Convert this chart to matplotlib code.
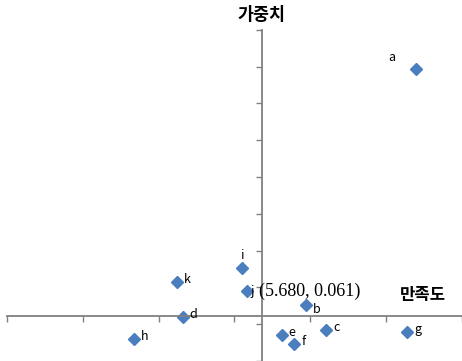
import matplotlib.pyplot as plt
import numpy as np

plt.rcParams['font.family'] = ['Noto Sans CJK KR', 'DejaVu Sans']

# data
names = ['a', 'b', 'c', 'd', 'e', 'f', 'g', 'h', 'i', 'j', 'k']
satisfaction = [6.700, 5.970, 6.105, 5.160, 5.812, 5.895, 6.640, 4.835, 5.550, 5.580, 5.118]
weight = [0.397, 0.0757, 0.0419, 0.0595, 0.0351, 0.023, 0.039, 0.0297, 0.127, 0.0946, 0.107]
cross_x, cross_y = 5.680, 0.061
x_ticks = np.arange(4.0, 7.01, 0.5)
y_ticks = np.arange(0.0, 0.451, 0.05)

fig = plt.figure(figsize=(4.62, 3.61), dpi=100)
ax = fig.add_axes([0, 0, 1, 1])
ax.set_xlim(3.954, 6.974)
ax.set_ylim(0.0027, 0.4906)

gray = '#808080'
for s in ['top', 'right']:
    ax.spines[s].set_visible(False)
ax.spines['left'].set_position(('data', cross_x))
ax.spines['bottom'].set_position(('data', cross_y))
ax.spines['left'].set_bounds(0.0, 0.45)
ax.spines['bottom'].set_bounds(4.0, 7.0)
for s in ['left', 'bottom']:
    ax.spines[s].set_color(gray)
    ax.spines[s].set_linewidth(1.3)
ax.set_xticks(x_ticks)
ax.set_yticks(y_ticks)
ax.tick_params(axis='both', color=gray, length=4, width=1, direction='out',
               labelbottom=False, labelleft=False)

ax.plot(satisfaction, weight, 'D', color='#4A7EBF', markersize=6, clip_on=False)

# point labels
offsets = {'a': (-20, 8), 'i': (-1, 9), 'j': (3, 0), 'b': (5, -3)}
for n, x, y in zip(names, satisfaction, weight):
    dx, dy = offsets.get(n, (5, 2))
    ax.annotate(n, (x, y), xytext=(dx, dy), textcoords='offset points',
                fontsize=9, va='center', ha='left')

ax.annotate('(%.3f, %.3f)' % (cross_x, cross_y), (satisfaction[9], weight[9]),
            xytext=(9, 0), textcoords='offset points', fontsize=13,
            family='Liberation Serif', va='center', ha='left')

ax.text(cross_x, 0.470, '가중치', fontsize=12.5, fontweight='bold',
        ha='center', va='center')
ax.text(6.74, 0.090, '만족도', fontsize=12, fontweight='bold',
        ha='center', va='center')

fig.savefig('out.png', dpi=100)
